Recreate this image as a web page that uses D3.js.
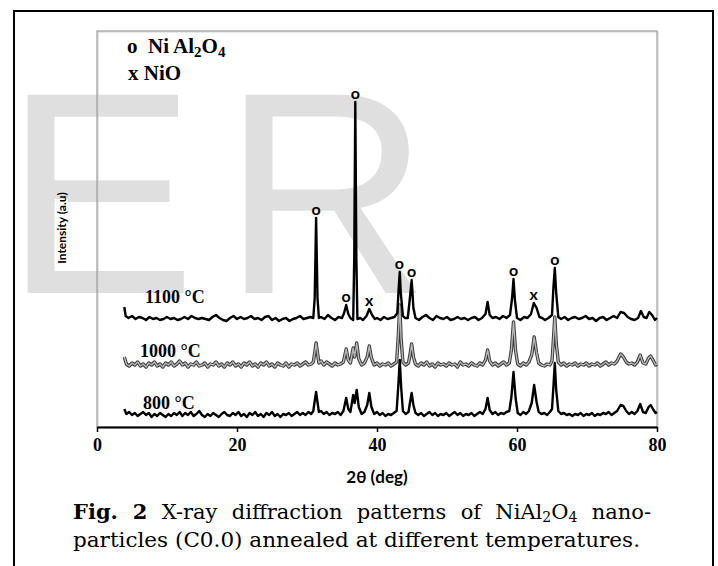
<!DOCTYPE html>
<html>
<head>
<meta charset="utf-8">
<script src="https://cdn.jsdelivr.net/npm/d3@7"></script>
<style>
  body { margin: 0; background: #fff; }
  svg { display: block; }
</style>
</head>
<body>
<div id="xrd-chart"></div>
<script>
// --- data ---
const temps = ["800 °C", "1000 °C", "1100 °C"];
const offsets = [12, 62, 109];          // vertical stacking offsets (a.u.)
const xTicks = [0, 20, 40, 60, 80];

const s800 = [[3.9,6],[4.2,1],[4.6,3],[5,0],[5.4,2],[5.8,-1],[6.2,1],[6.6,3],[7,0],[7.4,2],[7.8,-2],[8.2,1],[8.6,-1],[9,2],[9.4,0],[9.8,-2],[10.2,1],[10.6,-1],[11,2],[11.4,0],[11.8,3],[12.2,-1],[12.6,2],[13,0],[13.4,3],[13.8,-1],[14.2,1],[14.6,4],[15,0],[15.4,-2],[15.8,1],[16.2,-1],[16.6,2],[17,0],[17.4,-2],[17.8,1],[18.2,3],[18.6,0],[19,-1],[19.4,2],[19.8,0],[20.2,3],[20.6,-1],[21,1],[21.4,-2],[21.8,2],[22.2,0],[22.6,3],[23,-1],[23.4,1],[23.8,-2],[24.2,2],[24.6,0],[25,3],[25.4,-1],[25.8,1],[26.2,-2],[26.6,1],[27,0],[27.4,2],[27.8,-1],[28.2,1],[28.6,3],[29,0],[29.4,2],[29.8,0],[30.2,3],[30.6,1],[30.9,4],[31.1,14],[31.3,23],[31.5,13],[31.7,3],[32,4],[32.4,1],[32.8,3],[33.2,0],[33.6,2],[34,1],[34.4,3],[34.8,0],[35.2,4],[35.6,17],[35.9,6],[36.2,3],[36.6,20],[36.8,12],[37.1,25],[37.4,8],[37.8,1],[38.2,3],[38.6,10],[38.9,22],[39.2,8],[39.6,1],[40,3],[40.4,0],[40.8,2],[41.2,-1],[41.6,1],[42,0],[42.4,2],[42.8,4],[43.05,30],[43.25,55],[43.45,28],[43.7,4],[44.1,1],[44.5,3],[44.75,14],[44.95,22],[45.2,10],[45.5,2],[45.9,0],[46.3,2],[46.7,-1],[47.1,1],[47.5,3],[47.9,0],[48.3,2],[48.7,-1],[49.1,1],[49.5,0],[49.9,2],[50.3,-1],[50.7,1],[51.1,3],[51.5,0],[51.9,2],[52.3,-1],[52.7,1],[53.1,0],[53.5,2],[53.9,-1],[54.3,1],[54.7,3],[55.1,1],[55.5,6],[55.8,17],[56.1,5],[56.5,1],[56.9,3],[57.3,0],[57.7,2],[58.1,1],[58.5,3],[58.9,4],[59.2,18],[59.5,43],[59.8,17],[60.1,2],[60.5,0],[60.9,3],[61.3,1],[61.7,4],[62.1,12],[62.45,30],[62.8,13],[63.1,3],[63.5,1],[63.9,2],[64.3,0],[64.7,3],[65,6],[65.2,28],[65.4,52],[65.6,25],[65.9,4],[66.3,1],[66.7,2],[67.1,0],[67.5,1],[67.9,-1],[68.3,1],[68.7,0],[69.1,2],[69.5,-1],[69.9,1],[70.3,0],[70.7,2],[71.1,-1],[71.5,1],[71.9,0],[72.3,2],[72.7,1],[73.1,3],[73.5,0],[73.9,2],[74.3,4],[74.8,10],[75.2,9],[75.6,4],[76,1],[76.4,3],[76.8,1],[77.2,4],[77.6,11],[78,3],[78.4,2],[78.8,8],[79.1,10],[79.5,5],[79.8,2],[80,3]];

const s1000 = [[3.9,8],[4.2,1],[4.6,-1],[5,2],[5.4,0],[5.8,3],[6.2,-1],[6.6,1],[7,-2],[7.4,2],[7.8,0],[8.2,3],[8.6,-1],[9,1],[9.4,-2],[9.8,2],[10.2,0],[10.6,3],[11,-1],[11.4,1],[11.8,4],[12.2,0],[12.6,2],[13,-2],[13.4,1],[13.8,0],[14.2,3],[14.6,-1],[15,0],[15.4,2],[15.8,-2],[16.2,1],[16.6,0],[17,3],[17.4,-1],[17.8,1],[18.2,-2],[18.6,2],[19,0],[19.4,3],[19.8,-1],[20.2,1],[20.6,-2],[21,2],[21.4,0],[21.8,3],[22.2,-1],[22.6,1],[23,-2],[23.4,2],[23.8,0],[24.2,3],[24.6,-1],[25,1],[25.4,-2],[25.8,2],[26.2,0],[26.6,-1],[27,2],[27.4,-2],[27.8,1],[28.2,0],[28.6,2],[29,-1],[29.4,1],[29.8,3],[30.2,0],[30.6,1],[30.9,3],[31.1,12],[31.3,22],[31.5,12],[31.7,2],[32,4],[32.4,0],[32.8,3],[33.2,1],[33.6,-1],[34,2],[34.4,0],[34.8,1],[35.2,3],[35.6,16],[35.9,5],[36.2,2],[36.6,17],[36.8,8],[37.1,22],[37.4,6],[37.8,0],[38.2,2],[38.6,8],[38.9,19],[39.2,7],[39.6,0],[40,2],[40.4,-1],[40.8,1],[41.2,0],[41.6,2],[42,-1],[42.4,1],[42.8,3],[43.05,30],[43.25,60],[43.45,25],[43.7,3],[44.1,0],[44.5,2],[44.75,12],[44.95,21],[45.2,8],[45.5,1],[45.9,-1],[46.3,2],[46.7,0],[47.1,3],[47.5,-1],[47.9,1],[48.3,-2],[48.7,2],[49.1,0],[49.5,1],[49.9,-1],[50.3,2],[50.7,0],[51.1,1],[51.5,-2],[51.9,3],[52.3,0],[52.7,1],[53.1,-1],[53.5,2],[53.9,0],[54.3,-1],[54.7,2],[55.1,0],[55.5,5],[55.8,15],[56.1,4],[56.5,0],[56.9,2],[57.3,-1],[57.7,1],[58.1,3],[58.5,0],[58.9,2],[59.2,15],[59.5,43],[59.8,14],[60.1,1],[60.5,-1],[60.9,2],[61.3,0],[61.7,3],[62.1,10],[62.45,28],[62.8,12],[63.1,2],[63.5,0],[63.9,-1],[64.3,1],[64.7,0],[65,4],[65.2,25],[65.4,48],[65.6,22],[65.9,3],[66.3,0],[66.7,2],[67.1,-1],[67.5,1],[67.9,0],[68.3,2],[68.7,-1],[69.1,1],[69.5,0],[69.9,2],[70.3,-1],[70.7,1],[71.1,0],[71.5,2],[71.9,-1],[72.3,1],[72.7,3],[73.1,0],[73.5,2],[73.9,1],[74.3,4],[74.8,11],[75.2,8],[75.6,3],[76,1],[76.4,2],[76.8,0],[77.2,3],[77.6,10],[78,2],[78.4,1],[78.8,7],[79.1,9],[79.5,4],[79.8,0],[80,1]];

const s1100 = [[3.9,11],[4.1,2],[4.5,0],[5,2],[5.5,-1],[6,1],[6.5,0],[7,-2],[7.5,1],[8,-1],[8.5,0],[9,-2],[9.5,-1],[10,1],[10.5,-1],[11,0],[11.5,-2],[12,-1],[12.5,1],[13,-1],[13.5,2],[14,0],[14.5,-1],[15,0],[15.5,-1],[16,-2],[16.5,1],[17,3],[17.5,0],[18,-2],[18.5,-3],[19,0],[19.5,2],[20,-1],[20.5,1],[21,-1],[21.5,0],[22,2],[22.5,-1],[23,0],[23.5,-2],[24,1],[24.5,2],[25,-2],[25.5,0],[26,-3],[26.5,-1],[27,0],[27.5,-3],[28,-1],[28.5,0],[29,2],[29.5,-1],[30,0],[30.5,1],[30.9,0],[31.1,20],[31.3,100],[31.5,20],[31.7,0],[32,1],[32.5,-1],[33,3],[33.5,0],[34,-2],[34.5,1],[35,0],[35.3,5],[35.6,13],[35.9,4],[36.2,0],[36.6,-2],[36.75,60],[36.9,216],[37.05,60],[37.2,-1],[37.6,0],[38,-2],[38.5,2],[38.9,9],[39.3,3],[39.7,-1],[40,0],[40.5,-2],[41,1],[41.5,-1],[42,0],[42.5,1],[42.9,5],[43.1,30],[43.25,46],[43.4,25],[43.7,2],[44,0],[44.4,0],[44.7,20],[44.95,38],[45.2,10],[45.5,0],[46,-2],[46.5,1],[47,3],[47.5,0],[48,-2],[48.5,2],[49,0],[49.5,-1],[50,1],[50.5,-2],[51,-1],[51.5,1],[52,-1],[52.5,0],[53,-2],[53.5,0],[54,1],[54.5,-2],[55,0],[55.5,4],[55.8,16],[56.1,3],[56.5,0],[57,1],[57.5,-1],[58,2],[58.5,0],[59,3],[59.3,20],[59.5,39],[59.7,18],[60,0],[60.5,-2],[61,1],[61.5,0],[62,4],[62.4,15],[62.8,10],[63.2,1],[63.6,0],[64,-2],[64.5,0],[65,3],[65.2,30],[65.4,50],[65.6,25],[65.9,1],[66.3,-1],[66.8,1],[67.3,-2],[67.8,0],[68.3,1],[68.8,-1],[69.3,0],[69.8,2],[70.3,-1],[70.8,0],[71.3,-3],[71.8,0],[72.3,1],[72.8,-2],[73.3,0],[73.8,2],[74.3,0],[74.8,6],[75.3,5],[75.8,1],[76.3,-1],[76.8,-2],[77.3,0],[77.7,7],[78.1,1],[78.5,0],[78.9,6],[79.3,3],[79.7,-2],[80,0]];

// phase marks above the 1100 °C pattern (o = NiAl2O4, x = NiO)
const peakMarks = [
  {theta: 31.3, sym: "o"}, {theta: 35.6, sym: "o"}, {theta: 36.9, sym: "o"},
  {theta: 38.9, sym: "x"}, {theta: 43.2, sym: "o"}, {theta: 44.95, sym: "o"},
  {theta: 59.5, sym: "o"}, {theta: 62.4, sym: "x"}, {theta: 65.4, sym: "o"}
];

// --- layout ---
const W = 718, H = 566;
const plot = { left: 97, top: 31, right: 657, bottom: 427 };

const svg = d3.select("#xrd-chart")
    .append("svg")
    .attr("width", W)
    .attr("height", H);

// outer page border
svg.append("rect")
    .attr("x", 14).attr("y", 11)
    .attr("width", 699).attr("height", 600)
    .attr("fill", "#fff")
    .attr("stroke", "#000")
    .attr("stroke-width", 2);

// watermark
const wm = svg.append("g")
    .style("font-family", "'Liberation Sans', Arial, sans-serif")
    .style("font-size", "288px")
    .attr("fill", "#dfdfdf");
wm.append("text").attr("x", 4).attr("y", 293).text("E");
wm.append("text").attr("x", 222).attr("y", 293).text("R");

const x = d3.scaleLinear().domain([0, 80]).range([plot.left, plot.right]);
const y = d3.scaleLinear().domain([0, 396]).range([plot.bottom, plot.top]);

// plot frame
svg.append("rect")
    .attr("x", plot.left + 1).attr("y", plot.top + 1)
    .attr("width", plot.right - plot.left).attr("height", plot.bottom - plot.top)
    .attr("fill", "none")
    .attr("stroke", "#d4d4d4")
    .attr("stroke-width", 1);
svg.append("rect")
    .attr("x", plot.left).attr("y", plot.top)
    .attr("width", plot.right - plot.left).attr("height", plot.bottom - plot.top)
    .attr("fill", "none")
    .attr("stroke", "#8c8c8c")
    .attr("stroke-width", 1);

// y label with white box behind it
svg.append("rect")
    .attr("x", 55).attr("y", 199)
    .attr("width", 13).attr("height", 70)
    .attr("fill", "#fff");
svg.append("text")
    .attr("transform", "translate(65.5,228) rotate(-90)")
    .attr("text-anchor", "middle")
    .style("font-family", "Lato, 'Open Sans', sans-serif")
    .style("font-weight", "bold")
    .style("font-size", "12px")
    .text("Intensity (a.u)");

// patterns
const line = (off) => d3.line()
    .x(d => x(d[0]))
    .y(d => y(d[1] + off));

svg.append("path")
    .attr("d", line(offsets[0])(s800))
    .attr("fill", "none").attr("stroke", "#000")
    .attr("stroke-width", 2.4).attr("stroke-linejoin", "round");

svg.append("path")
    .attr("d", line(offsets[1])(s1000))
    .attr("fill", "none").attr("stroke", "#3a3a3a")
    .attr("stroke-width", 3.4).attr("stroke-linejoin", "round");
svg.append("path")
    .attr("d", line(offsets[1])(s1000))
    .attr("fill", "none").attr("stroke", "#b8b8b8")
    .attr("stroke-width", 1.4).attr("stroke-linejoin", "round");

svg.append("path")
    .attr("d", line(offsets[2])(s1100))
    .attr("fill", "none").attr("stroke", "#000")
    .attr("stroke-width", 2.4).attr("stroke-linejoin", "round");

// phase marks
svg.selectAll(".mark")
    .data(peakMarks)
    .enter().append("text")
    .attr("class", "mark")
    .attr("x", d => x(d.theta))
    .attr("y", d => {
        const near = s1100.filter(p => Math.abs(p[0] - d.theta) < 0.4);
        return y(offsets[2] + d3.max(near, p => p[1])) - 10;
    })
    .attr("text-anchor", "middle")
    .attr("dominant-baseline", "central")
    .style("font-family", "Lato, 'Open Sans', sans-serif")
    .style("font-weight", "bold")
    .style("font-size", "16px")
    .text(d => d.sym);

// temperature labels
const tempPos = [[143, 409], [140, 357], [145, 303]];
svg.selectAll(".temp")
    .data(temps)
    .enter().append("text")
    .attr("class", "temp")
    .attr("x", (d, i) => tempPos[i][0])
    .attr("y", (d, i) => tempPos[i][1])
    .style("font-family", "'Liberation Serif', 'Times New Roman', serif")
    .style("font-weight", "bold")
    .style("font-size", "18px")
    .text(d => d);

// legend
const legend = svg.append("g")
    .style("font-family", "'Liberation Serif', 'Times New Roman', serif")
    .style("font-weight", "bold")
    .style("font-size", "21px");
const l1 = legend.append("text").attr("x", 127).attr("y", 53);
l1.append("tspan").text("o\u00a0\u00a0Ni Al");
l1.append("tspan").attr("dy", 4).style("font-size", "15px").text("2");
l1.append("tspan").attr("dy", -4).text("O");
l1.append("tspan").attr("dy", 4).style("font-size", "15px").text("4");
legend.append("text").attr("x", 128).attr("y", 80).text("x NiO");

// x axis
const xAxis = svg.append("g")
    .attr("transform", `translate(0,${plot.bottom})`)
    .call(d3.axisBottom(x).tickValues(xTicks).tickSize(5).tickSizeOuter(0).tickPadding(6));
xAxis.select(".domain").attr("stroke-width", 2);
xAxis.selectAll(".tick line").attr("stroke-width", 1.5);
xAxis.selectAll("text")
    .style("font-family", "'Liberation Serif', 'Times New Roman', serif")
    .style("font-weight", "bold")
    .style("font-size", "18px");

svg.append("text")
    .attr("x", (plot.left + plot.right) / 2)
    .attr("y", 483)
    .attr("text-anchor", "middle")
    .style("font-family", "Lato, 'Open Sans', sans-serif")
    .style("font-weight", "bold")
    .style("font-size", "17px")
    .text("2θ (deg)");

// caption
const cap = svg.append("g")
    .style("font-family", "'Palatino Linotype', 'Book Antiqua', 'DejaVu Serif', serif")
    .style("font-size", "21px");
const c1 = cap.append("text").attr("x", 73).attr("y", 519);
c1.append("tspan").style("font-weight", "bold").text("Fig. 2");
c1.append("tspan").text(" X-ray diffraction patterns of NiAl");
c1.append("tspan").attr("dy", 3).style("font-size", "14px").text("2");
c1.append("tspan").attr("dy", -3).text("O");
c1.append("tspan").attr("dy", 3).style("font-size", "14px").text("4");
c1.append("tspan").attr("dy", -3).text(" nano-");
const natural = c1.node().getComputedTextLength();
c1.attr("word-spacing", Math.max(0, (578 - natural) / 7));

const c2 = cap.append("text").attr("x", 73).attr("y", 547)
    .text("particles (C0.0) annealed at different temperatures.");
c2.attr("textLength", 567).attr("lengthAdjust", "spacingAndGlyphs");
</script>
</body>
</html>
